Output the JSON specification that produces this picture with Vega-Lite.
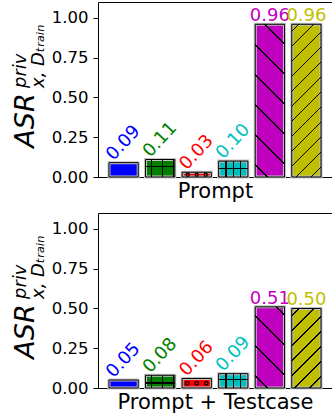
{
  "$schema": "https://vega.github.io/schema/vega-lite/v6.json",
  "padding": {"left": 10, "top": 1, "right": 1, "bottom": 2},
  "datasets": {
    "prompt": [
      {"method": "A", "value": 0.09},
      {"method": "B", "value": 0.11},
      {"method": "C", "value": 0.03},
      {"method": "D", "value": 0.10},
      {"method": "E", "value": 0.96},
      {"method": "F", "value": 0.96}
    ],
    "testcase": [
      {"method": "A", "value": 0.05},
      {"method": "B", "value": 0.08},
      {"method": "C", "value": 0.06},
      {"method": "D", "value": 0.09},
      {"method": "E", "value": 0.51},
      {"method": "F", "value": 0.50}
    ]
  },
  "config": {
    "font": "DejaVu Sans",
    "view": {"stroke": "black", "strokeWidth": 1},
    "axis": {"domain": false, "grid": false, "labelFont": "DejaVu Sans", "titleFont": "DejaVu Sans", "labelColor": "black", "titleColor": "black", "tickColor": "black"},
    "title": {"font": "DejaVu Sans", "subtitleFont": "DejaVu Sans", "color": "black", "subtitleColor": "black"},
    "concat": {"spacing": 10}
  },
  "vconcat": [
    {
      "width": 234, "height": 175,
      "data": {"name": "prompt"},
      "title": {"text": "priv", "subtitle": "x, Dₜᵣₐᵢₙ", "orient": "left", "anchor": "start", "frame": "group", "fontSize": 18, "fontStyle": "italic", "fontWeight": "normal", "subtitleFontSize": 18, "subtitleFontStyle": "italic", "subtitlePadding": 0, "offset": -37, "dx": 89},
      "encoding": {
        "x": {"field": "method", "type": "nominal", "sort": null, "scale": {"paddingInner": 0.2, "paddingOuter": 0.3}, "axis": {"labels": false, "ticks": false, "title": "Prompt", "titleFontSize": 21, "titleFontWeight": "normal", "titlePadding": 3}},
        "y": {"field": "value", "type": "quantitative", "scale": {"domain": [0, 1.1], "nice": false}, "axis": {"values": [0, 0.25, 0.5, 0.75, 1], "format": ".2f", "labelFontSize": 16.5, "tickSize": 5, "labelPadding": 5, "title": "ASR", "titleFontSize": 27, "titleFontStyle": "italic", "titleFontWeight": "normal", "titleX": -65, "titleY": 118, "titleBaseline": "alphabetic", "titleAlign": "center", "titleAngle": 270}}
      },
      "layer": [
        {"mark": {"type": "bar", "stroke": "#c4c4c4", "strokeWidth": 3}, "encoding": {"color": {"field": "method", "type": "nominal", "scale": {"domain": ["A","B","C","D","E","F"], "range": ["#0000ff","#008000","#ff0000","#00bfbf","#bf00bf","#bfbf00"]}, "legend": null}}},
        {"transform": [{"filter": "datum.method === 'E'"}], "mark": {"type": "bar", "strokeWidth": 0, "fill": {"gradient": "linear", "x1": 0, "y1": 1, "x2": 0.2202, "y2": -0.1494, "stops": [
          {"offset": 0, "color": "rgba(0,0,0,0)"},
          {"offset": 0.0609, "color": "rgba(0,0,0,0)"}, {"offset": 0.0609, "color": "#000"}, {"offset": 0.0709, "color": "#000"}, {"offset": 0.0709, "color": "rgba(0,0,0,0)"},
          {"offset": 0.2258, "color": "rgba(0,0,0,0)"}, {"offset": 0.2258, "color": "#000"}, {"offset": 0.2358, "color": "#000"}, {"offset": 0.2358, "color": "rgba(0,0,0,0)"},
          {"offset": 0.3906, "color": "rgba(0,0,0,0)"}, {"offset": 0.3906, "color": "#000"}, {"offset": 0.4006, "color": "#000"}, {"offset": 0.4006, "color": "rgba(0,0,0,0)"},
          {"offset": 0.5554, "color": "rgba(0,0,0,0)"}, {"offset": 0.5554, "color": "#000"}, {"offset": 0.5654, "color": "#000"}, {"offset": 0.5654, "color": "rgba(0,0,0,0)"},
          {"offset": 0.7203, "color": "rgba(0,0,0,0)"}, {"offset": 0.7203, "color": "#000"}, {"offset": 0.7303, "color": "#000"}, {"offset": 0.7303, "color": "rgba(0,0,0,0)"},
          {"offset": 0.8851, "color": "rgba(0,0,0,0)"}, {"offset": 0.8851, "color": "#000"}, {"offset": 0.8951, "color": "#000"}, {"offset": 0.8951, "color": "rgba(0,0,0,0)"},
          {"offset": 1, "color": "rgba(0,0,0,0)"}]}}},
        {"transform": [{"filter": "datum.method === 'F'"}], "mark": {"type": "bar", "strokeWidth": 0, "fill": {"gradient": "linear", "x1": 0, "y1": 0, "x2": 0.2202, "y2": 1.1494, "stops": [
          {"offset": 0, "color": "rgba(0,0,0,0)"},
          {"offset": 0.0335, "color": "rgba(0,0,0,0)"}, {"offset": 0.0335, "color": "#000"}, {"offset": 0.0435, "color": "#000"}, {"offset": 0.0435, "color": "rgba(0,0,0,0)"},
          {"offset": 0.1159, "color": "rgba(0,0,0,0)"}, {"offset": 0.1159, "color": "#000"}, {"offset": 0.1259, "color": "#000"}, {"offset": 0.1259, "color": "rgba(0,0,0,0)"},
          {"offset": 0.1983, "color": "rgba(0,0,0,0)"}, {"offset": 0.1983, "color": "#000"}, {"offset": 0.2083, "color": "#000"}, {"offset": 0.2083, "color": "rgba(0,0,0,0)"},
          {"offset": 0.2807, "color": "rgba(0,0,0,0)"}, {"offset": 0.2807, "color": "#000"}, {"offset": 0.2907, "color": "#000"}, {"offset": 0.2907, "color": "rgba(0,0,0,0)"},
          {"offset": 0.3631, "color": "rgba(0,0,0,0)"}, {"offset": 0.3631, "color": "#000"}, {"offset": 0.3731, "color": "#000"}, {"offset": 0.3731, "color": "rgba(0,0,0,0)"},
          {"offset": 0.4455, "color": "rgba(0,0,0,0)"}, {"offset": 0.4455, "color": "#000"}, {"offset": 0.4555, "color": "#000"}, {"offset": 0.4555, "color": "rgba(0,0,0,0)"},
          {"offset": 0.5280, "color": "rgba(0,0,0,0)"}, {"offset": 0.5280, "color": "#000"}, {"offset": 0.5380, "color": "#000"}, {"offset": 0.5380, "color": "rgba(0,0,0,0)"},
          {"offset": 0.6104, "color": "rgba(0,0,0,0)"}, {"offset": 0.6104, "color": "#000"}, {"offset": 0.6204, "color": "#000"}, {"offset": 0.6204, "color": "rgba(0,0,0,0)"},
          {"offset": 0.6928, "color": "rgba(0,0,0,0)"}, {"offset": 0.6928, "color": "#000"}, {"offset": 0.7028, "color": "#000"}, {"offset": 0.7028, "color": "rgba(0,0,0,0)"},
          {"offset": 0.7752, "color": "rgba(0,0,0,0)"}, {"offset": 0.7752, "color": "#000"}, {"offset": 0.7852, "color": "#000"}, {"offset": 0.7852, "color": "rgba(0,0,0,0)"},
          {"offset": 0.8576, "color": "rgba(0,0,0,0)"}, {"offset": 0.8576, "color": "#000"}, {"offset": 0.8676, "color": "#000"}, {"offset": 0.8676, "color": "rgba(0,0,0,0)"},
          {"offset": 0.9401, "color": "rgba(0,0,0,0)"}, {"offset": 0.9401, "color": "#000"}, {"offset": 0.9501, "color": "#000"}, {"offset": 0.9501, "color": "rgba(0,0,0,0)"},
          {"offset": 1, "color": "rgba(0,0,0,0)"}]}}},
        {"transform": [{"filter": "datum.method === 'B'"}], "mark": {"type": "bar", "strokeWidth": 0, "fill": {"gradient": "linear", "x1": 0, "y1": 0, "x2": 1, "y2": 0, "stops": [
          {"offset": 0, "color": "rgba(0,0,0,0)"},
          {"offset": 0.175, "color": "rgba(0,0,0,0)"}, {"offset": 0.175, "color": "#000"}, {"offset": 0.215, "color": "#000"}, {"offset": 0.215, "color": "rgba(0,0,0,0)"},
          {"offset": 0.551, "color": "rgba(0,0,0,0)"}, {"offset": 0.551, "color": "#000"}, {"offset": 0.591, "color": "#000"}, {"offset": 0.591, "color": "rgba(0,0,0,0)"},
          {"offset": 0.927, "color": "rgba(0,0,0,0)"}, {"offset": 0.927, "color": "#000"}, {"offset": 0.967, "color": "#000"}, {"offset": 0.967, "color": "rgba(0,0,0,0)"},
          {"offset": 1, "color": "rgba(0,0,0,0)"}]}}},
        {"transform": [{"filter": "datum.method === 'B'"}], "mark": {"type": "bar", "strokeWidth": 0, "fill": {"gradient": "linear", "x1": 0, "y1": 0, "x2": 0, "y2": 1, "stops": [
          {"offset": 0, "color": "rgba(0,0,0,0)"},
          {"offset": 0.366, "color": "rgba(0,0,0,0)"}, {"offset": 0.366, "color": "#000"}, {"offset": 0.434, "color": "#000"}, {"offset": 0.434, "color": "rgba(0,0,0,0)"},
          {"offset": 1, "color": "rgba(0,0,0,0)"}]}}},
        {"transform": [{"filter": "datum.method === 'D'"}], "mark": {"type": "bar", "strokeWidth": 0, "fill": {"gradient": "linear", "x1": 0, "y1": 0, "x2": 1, "y2": 0, "stops": [
          {"offset": 0, "color": "rgba(0,0,0,0)"},
          {"offset": 0.23, "color": "rgba(0,0,0,0)"}, {"offset": 0.23, "color": "#000"}, {"offset": 0.27, "color": "#000"}, {"offset": 0.27, "color": "rgba(0,0,0,0)"},
          {"offset": 0.48, "color": "rgba(0,0,0,0)"}, {"offset": 0.48, "color": "#000"}, {"offset": 0.52, "color": "#000"}, {"offset": 0.52, "color": "rgba(0,0,0,0)"},
          {"offset": 0.73, "color": "rgba(0,0,0,0)"}, {"offset": 0.73, "color": "#000"}, {"offset": 0.77, "color": "#000"}, {"offset": 0.77, "color": "rgba(0,0,0,0)"},
          {"offset": 1, "color": "rgba(0,0,0,0)"}]}}},
        {"transform": [{"filter": "datum.method === 'D'"}], "mark": {"type": "bar", "strokeWidth": 0, "fill": {"gradient": "linear", "x1": 0, "y1": 0, "x2": 0, "y2": 1, "stops": [
          {"offset": 0, "color": "rgba(0,0,0,0)"},
          {"offset": 0.442, "color": "rgba(0,0,0,0)"}, {"offset": 0.442, "color": "#000"}, {"offset": 0.518, "color": "#000"}, {"offset": 0.518, "color": "rgba(0,0,0,0)"},
          {"offset": 1, "color": "rgba(0,0,0,0)"}]}}},
        {"transform": [{"filter": "datum.method === 'C'"}], "mark": {"type": "point", "shape": "circle", "size": 10, "filled": false, "stroke": "black", "strokeWidth": 1.2, "opacity": 1, "xOffset": -9, "yOffset": 2.4}},
        {"transform": [{"filter": "datum.method === 'C'"}], "mark": {"type": "point", "shape": "circle", "size": 10, "filled": false, "stroke": "black", "strokeWidth": 1.2, "opacity": 1, "xOffset": 0, "yOffset": 2.4}},
        {"transform": [{"filter": "datum.method === 'C'"}], "mark": {"type": "point", "shape": "circle", "size": 10, "filled": false, "stroke": "black", "strokeWidth": 1.2, "opacity": 1, "xOffset": 9, "yOffset": 2.4}},
        {"mark": {"type": "bar", "fill": "transparent", "stroke": "black", "strokeWidth": 1}},
        {"transform": [{"filter": "datum.value < 0.3"}], "mark": {"type": "text", "align": "center", "baseline": "middle", "fontSize": 18, "yOffset": -19.5, "angle": 313}, "encoding": {"text": {"field": "value", "type": "quantitative", "format": ".2f"}, "color": {"field": "method", "type": "nominal", "scale": {"domain": ["A","B","C","D","E","F"], "range": ["#0000ff","#008000","#ff0000","#00bfbf","#bf00bf","#bfbf00"]}, "legend": null}}},
        {"transform": [{"filter": "datum.value >= 0.3"}], "mark": {"type": "text", "align": "center", "baseline": "alphabetic", "fontSize": 18, "yOffset": -3}, "encoding": {"text": {"field": "value", "type": "quantitative", "format": ".2f"}, "color": {"field": "method", "type": "nominal", "scale": {"domain": ["A","B","C","D","E","F"], "range": ["#0000ff","#008000","#ff0000","#00bfbf","#bf00bf","#bfbf00"]}, "legend": null}}}
      ]
    },
    {
      "width": 234, "height": 175,
      "data": {"name": "testcase"},
      "title": {"text": "priv", "subtitle": "x, Dₜᵣₐᵢₙ", "orient": "left", "anchor": "start", "frame": "group", "fontSize": 18, "fontStyle": "italic", "fontWeight": "normal", "subtitleFontSize": 18, "subtitleFontStyle": "italic", "subtitlePadding": 0, "offset": -37, "dx": 89},
      "encoding": {
        "x": {"field": "method", "type": "nominal", "sort": null, "scale": {"paddingInner": 0.2, "paddingOuter": 0.3}, "axis": {"labels": false, "ticks": false, "title": "Prompt + Testcase", "titleFontSize": 21, "titleFontWeight": "normal", "titlePadding": 3}},
        "y": {"field": "value", "type": "quantitative", "scale": {"domain": [0, 1.1], "nice": false}, "axis": {"values": [0, 0.25, 0.5, 0.75, 1], "format": ".2f", "labelFontSize": 16.5, "tickSize": 5, "labelPadding": 5, "title": "ASR", "titleFontSize": 27, "titleFontStyle": "italic", "titleFontWeight": "normal", "titleX": -65, "titleY": 118, "titleBaseline": "alphabetic", "titleAlign": "center", "titleAngle": 270}}
      },
      "layer": [
        {"mark": {"type": "bar", "stroke": "#c4c4c4", "strokeWidth": 3}, "encoding": {"color": {"field": "method", "type": "nominal", "scale": {"domain": ["A","B","C","D","E","F"], "range": ["#0000ff","#008000","#ff0000","#00bfbf","#bf00bf","#bfbf00"]}, "legend": null}}},
        {"transform": [{"filter": "datum.method === 'E'"}], "mark": {"type": "bar", "strokeWidth": 0, "fill": {"gradient": "linear", "x1": 0, "y1": 1, "x2": 0.434, "y2": -0.204, "stops": [
          {"offset": 0, "color": "rgba(0,0,0,0)"},
          {"offset": 0.1010, "color": "rgba(0,0,0,0)"}, {"offset": 0.1010, "color": "#000"}, {"offset": 0.1164, "color": "#000"}, {"offset": 0.1164, "color": "rgba(0,0,0,0)"},
          {"offset": 0.3728, "color": "rgba(0,0,0,0)"}, {"offset": 0.3728, "color": "#000"}, {"offset": 0.3882, "color": "#000"}, {"offset": 0.3882, "color": "rgba(0,0,0,0)"},
          {"offset": 0.6445, "color": "rgba(0,0,0,0)"}, {"offset": 0.6445, "color": "#000"}, {"offset": 0.6599, "color": "#000"}, {"offset": 0.6599, "color": "rgba(0,0,0,0)"},
          {"offset": 0.9163, "color": "rgba(0,0,0,0)"}, {"offset": 0.9163, "color": "#000"}, {"offset": 0.9317, "color": "#000"}, {"offset": 0.9317, "color": "rgba(0,0,0,0)"},
          {"offset": 1, "color": "rgba(0,0,0,0)"}]}}},
        {"transform": [{"filter": "datum.method === 'F'"}], "mark": {"type": "bar", "strokeWidth": 0, "fill": {"gradient": "linear", "x1": 0, "y1": 0, "x2": 0.443, "y2": 1.2048, "stops": [
          {"offset": 0, "color": "rgba(0,0,0,0)"},
          {"offset": 0.0565, "color": "rgba(0,0,0,0)"}, {"offset": 0.0565, "color": "#000"}, {"offset": 0.0721, "color": "#000"}, {"offset": 0.0721, "color": "rgba(0,0,0,0)"},
          {"offset": 0.1944, "color": "rgba(0,0,0,0)"}, {"offset": 0.1944, "color": "#000"}, {"offset": 0.2100, "color": "#000"}, {"offset": 0.2100, "color": "rgba(0,0,0,0)"},
          {"offset": 0.3323, "color": "rgba(0,0,0,0)"}, {"offset": 0.3323, "color": "#000"}, {"offset": 0.3479, "color": "#000"}, {"offset": 0.3479, "color": "rgba(0,0,0,0)"},
          {"offset": 0.4701, "color": "rgba(0,0,0,0)"}, {"offset": 0.4701, "color": "#000"}, {"offset": 0.4857, "color": "#000"}, {"offset": 0.4857, "color": "rgba(0,0,0,0)"},
          {"offset": 0.6080, "color": "rgba(0,0,0,0)"}, {"offset": 0.6080, "color": "#000"}, {"offset": 0.6236, "color": "#000"}, {"offset": 0.6236, "color": "rgba(0,0,0,0)"},
          {"offset": 0.7459, "color": "rgba(0,0,0,0)"}, {"offset": 0.7459, "color": "#000"}, {"offset": 0.7615, "color": "#000"}, {"offset": 0.7615, "color": "rgba(0,0,0,0)"},
          {"offset": 0.8837, "color": "rgba(0,0,0,0)"}, {"offset": 0.8837, "color": "#000"}, {"offset": 0.8993, "color": "#000"}, {"offset": 0.8993, "color": "rgba(0,0,0,0)"},
          {"offset": 1, "color": "rgba(0,0,0,0)"}]}}},
        {"transform": [{"filter": "datum.method === 'B'"}], "mark": {"type": "bar", "strokeWidth": 0, "fill": {"gradient": "linear", "x1": 0, "y1": 0, "x2": 1, "y2": 0, "stops": [
          {"offset": 0, "color": "rgba(0,0,0,0)"},
          {"offset": 0.175, "color": "rgba(0,0,0,0)"}, {"offset": 0.175, "color": "#000"}, {"offset": 0.215, "color": "#000"}, {"offset": 0.215, "color": "rgba(0,0,0,0)"},
          {"offset": 0.551, "color": "rgba(0,0,0,0)"}, {"offset": 0.551, "color": "#000"}, {"offset": 0.591, "color": "#000"}, {"offset": 0.591, "color": "rgba(0,0,0,0)"},
          {"offset": 0.927, "color": "rgba(0,0,0,0)"}, {"offset": 0.927, "color": "#000"}, {"offset": 0.967, "color": "#000"}, {"offset": 0.967, "color": "rgba(0,0,0,0)"},
          {"offset": 1, "color": "rgba(0,0,0,0)"}]}}},
        {"transform": [{"filter": "datum.method === 'B'"}], "mark": {"type": "bar", "strokeWidth": 0, "fill": {"gradient": "linear", "x1": 0, "y1": 0, "x2": 0, "y2": 1, "stops": [
          {"offset": 0, "color": "rgba(0,0,0,0)"},
          {"offset": 0.553, "color": "rgba(0,0,0,0)"}, {"offset": 0.553, "color": "#000"}, {"offset": 0.647, "color": "#000"}, {"offset": 0.647, "color": "rgba(0,0,0,0)"},
          {"offset": 1, "color": "rgba(0,0,0,0)"}]}}},
        {"transform": [{"filter": "datum.method === 'D'"}], "mark": {"type": "bar", "strokeWidth": 0, "fill": {"gradient": "linear", "x1": 0, "y1": 0, "x2": 1, "y2": 0, "stops": [
          {"offset": 0, "color": "rgba(0,0,0,0)"},
          {"offset": 0.23, "color": "rgba(0,0,0,0)"}, {"offset": 0.23, "color": "#000"}, {"offset": 0.27, "color": "#000"}, {"offset": 0.27, "color": "rgba(0,0,0,0)"},
          {"offset": 0.48, "color": "rgba(0,0,0,0)"}, {"offset": 0.48, "color": "#000"}, {"offset": 0.52, "color": "#000"}, {"offset": 0.52, "color": "rgba(0,0,0,0)"},
          {"offset": 0.73, "color": "rgba(0,0,0,0)"}, {"offset": 0.73, "color": "#000"}, {"offset": 0.77, "color": "#000"}, {"offset": 0.77, "color": "rgba(0,0,0,0)"},
          {"offset": 1, "color": "rgba(0,0,0,0)"}]}}},
        {"transform": [{"filter": "datum.method === 'D'"}], "mark": {"type": "bar", "strokeWidth": 0, "fill": {"gradient": "linear", "x1": 0, "y1": 0, "x2": 0, "y2": 1, "stops": [
          {"offset": 0, "color": "rgba(0,0,0,0)"},
          {"offset": 0.378, "color": "rgba(0,0,0,0)"}, {"offset": 0.378, "color": "#000"}, {"offset": 0.462, "color": "#000"}, {"offset": 0.462, "color": "rgba(0,0,0,0)"},
          {"offset": 1, "color": "rgba(0,0,0,0)"}]}}},
        {"transform": [{"filter": "datum.method === 'C'"}], "mark": {"type": "point", "shape": "circle", "size": 12, "filled": false, "stroke": "black", "strokeWidth": 1.2, "opacity": 1, "xOffset": -9.5, "yOffset": 4.8}},
        {"transform": [{"filter": "datum.method === 'C'"}], "mark": {"type": "point", "shape": "circle", "size": 12, "filled": false, "stroke": "black", "strokeWidth": 1.2, "opacity": 1, "xOffset": 0, "yOffset": 4.8}},
        {"transform": [{"filter": "datum.method === 'C'"}], "mark": {"type": "point", "shape": "circle", "size": 12, "filled": false, "stroke": "black", "strokeWidth": 1.2, "opacity": 1, "xOffset": 9.5, "yOffset": 4.8}},
        {"mark": {"type": "bar", "fill": "transparent", "stroke": "black", "strokeWidth": 1}},
        {"transform": [{"filter": "datum.value < 0.3"}], "mark": {"type": "text", "align": "center", "baseline": "middle", "fontSize": 18, "yOffset": -19.5, "angle": 313}, "encoding": {"text": {"field": "value", "type": "quantitative", "format": ".2f"}, "color": {"field": "method", "type": "nominal", "scale": {"domain": ["A","B","C","D","E","F"], "range": ["#0000ff","#008000","#ff0000","#00bfbf","#bf00bf","#bfbf00"]}, "legend": null}}},
        {"transform": [{"filter": "datum.value >= 0.3"}], "mark": {"type": "text", "align": "center", "baseline": "alphabetic", "fontSize": 18, "yOffset": -3}, "encoding": {"text": {"field": "value", "type": "quantitative", "format": ".2f"}, "color": {"field": "method", "type": "nominal", "scale": {"domain": ["A","B","C","D","E","F"], "range": ["#0000ff","#008000","#ff0000","#00bfbf","#bf00bf","#bfbf00"]}, "legend": null}}}
      ]
    }
  ]
}
